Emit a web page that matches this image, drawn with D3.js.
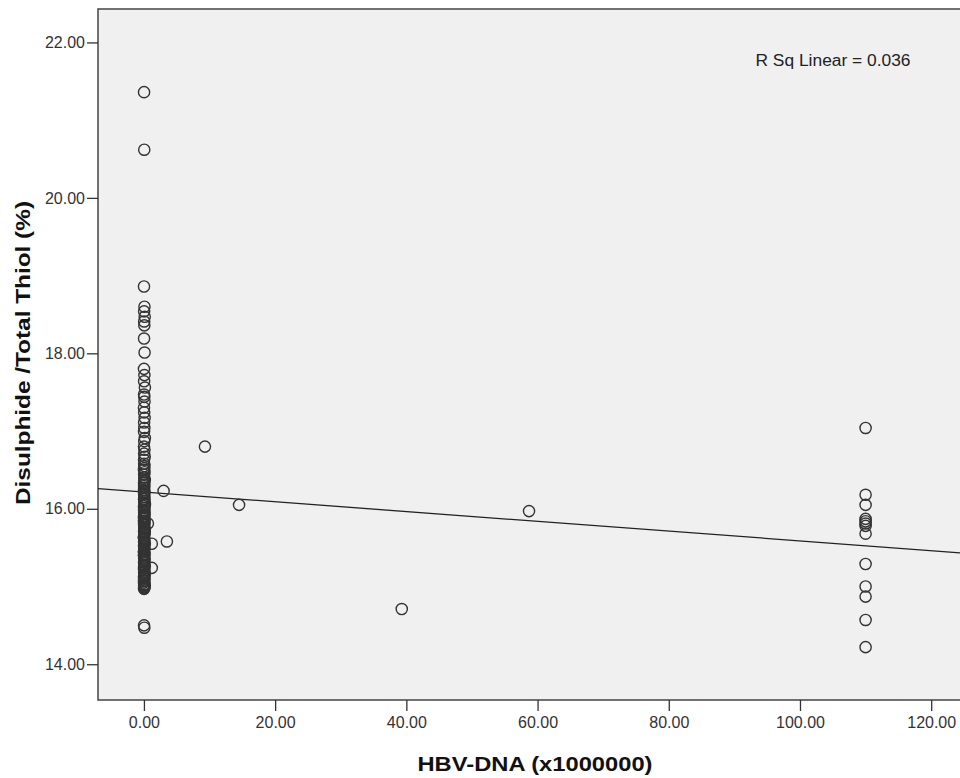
<!DOCTYPE html>
<html>
<head>
<meta charset="utf-8">
<script src="https://cdn.jsdelivr.net/npm/d3@7"></script>
<style>
  html, body { margin: 0; padding: 0; background: #ffffff; }
  svg { display: block; }
  text { font-family: "Liberation Sans", Arial, sans-serif; }
</style>
</head>
<body>
<svg id="chart" width="960" height="778"></svg>
<script>
// ---------------- data ----------------
// HBV-DNA (x1000000) near zero
const nearZeroX = [0.02, 0.05, 0.01, 0.08, 0.03, 0.12, 0.04, 0.06, 0.02, 0.10,
  0.01, 0.07, 0.03, 0.15, 0.02, 0.05, 0.09, 0.01, 0.04, 0.11,
  0.03, 0.06, 0.02, 0.14, 0.05, 0.01, 0.08, 0.03, 0.12, 0.02,
  0.04, 0.07, 0.01, 0.09, 0.03, 0.05, 0.13, 0.02, 0.06, 0.04,
  0.01, 0.10, 0.03, 0.08, 0.02, 0.05, 0.16, 0.01, 0.07, 0.03,
  0.04, 0.11, 0.02, 0.06, 0.01, 0.09, 0.03, 0.05, 0.12, 0.02,
  0.08, 0.04, 0.01, 0.07, 0.03, 0.14, 0.02, 0.06, 0.05, 0.01,
  0.10, 0.03, 0.04, 0.08, 0.02, 0.06, 0.13, 0.01, 0.05, 0.03,
  0.09, 0.02, 0.04, 0.07, 0.01, 0.11, 0.03, 0.06, 0.02, 0.05,
  0.01, 0.08, 0.03, 0.04, 0.02, 0.06, 0.01, 0.05,
  0.03, 0.07, 0.02, 0.10, 0.04, 0.01, 0.06, 0.09, 0.02, 0.05,
  0.12, 0.03, 0.08, 0.01, 0.04, 0.06, 0.02, 0.11, 0.05, 0.03,
  0.07, 0.01, 0.09, 0.04, 0.02, 0.06, 0.03, 0.08];
const nearZeroY = [21.36, 20.62, 18.86, 18.60, 18.54, 18.47, 18.41, 18.36, 18.19, 18.01,
  17.80, 17.72, 17.64, 17.56, 17.47, 17.44, 17.38, 17.30, 17.24, 17.17,
  17.11, 17.04, 16.99, 16.91, 16.87, 16.80, 16.76, 16.71, 16.67, 16.63,
  16.58, 16.55, 16.50, 16.47, 16.44, 16.40, 16.37, 16.33, 16.31, 16.27,
  16.24, 16.22, 16.18, 16.15, 16.13, 16.10, 16.06, 16.03, 16.01, 15.98,
  15.95, 15.93, 15.90, 15.87, 15.84, 15.82, 15.79, 15.76, 15.73, 15.71,
  15.68, 15.66, 15.63, 15.60, 15.58, 15.55, 15.52, 15.50, 15.47, 15.44,
  15.42, 15.39, 15.36, 15.34, 15.31, 15.28, 15.26, 15.23, 15.21, 15.18,
  15.15, 15.13, 15.10, 15.08, 15.05, 15.03, 15.01, 14.99, 14.97, 15.12,
  15.45, 15.85, 16.20, 16.52, 14.50, 14.47, 15.64, 16.35,
  16.12, 15.97, 15.81, 15.69, 15.57, 15.41, 15.33, 15.19, 15.07, 14.98,
  16.05, 15.91, 15.75, 15.62, 15.49, 15.37, 15.25, 15.16, 15.02, 16.29,
  16.08, 15.88, 15.70, 15.53, 15.40, 15.27, 15.11, 15.00];

// HBV-DNA (x1000000) at higher loads
const otherX = [0.6, 1.2, 1.2, 3.0, 3.5, 9.3, 14.5, 39.3, 58.7,
  110, 110, 110, 110, 110, 110, 110, 110, 110, 110, 110, 110, 110];
const otherY = [15.81, 15.55, 15.24, 16.23, 15.58, 16.80, 16.05, 14.71, 15.97,
  17.04, 16.18, 16.05, 15.87, 15.84, 15.81, 15.78, 15.68, 15.29, 15.00, 14.87, 14.57, 14.22];

const xTicks = [0, 20, 40, 60, 80, 100, 120];
const yTicks = [14, 16, 18, 20, 22];

// linear fit as drawn (intercept, slope) and its R²
const fitIntercept = 16.216;
const fitSlope = -0.00629;
const rSquaredLabel = "R Sq Linear = 0.036";

const xTitle = "HBV-DNA (x1000000)";
const yTitle = "Disulphide /Total Thiol (%)";

// ---------------- chart ----------------
const svg = d3.select("#chart");
const plot = { left: 98, top: 9, right: 964, bottom: 700 };

const x = d3.scaleLinear().domain([-7.0, 125.0]).range([plot.left, plot.right]);
const y = d3.scaleLinear().domain([13.54, 22.43]).range([plot.bottom, plot.top]);

// plot background
svg.append("rect")
  .attr("x", plot.left).attr("y", plot.top)
  .attr("width", plot.right - plot.left).attr("height", plot.bottom - plot.top)
  .attr("fill", "#f0f0f0")
  .attr("stroke", "#444").attr("stroke-width", 1.5);

// axes
const xAxis = svg.append("g")
  .attr("transform", `translate(0,${plot.bottom})`)
  .call(d3.axisBottom(x).tickValues(xTicks).tickFormat(d3.format(".2f")).tickSizeOuter(0).tickSizeInner(11).tickPadding(6));
const yAxis = svg.append("g")
  .attr("transform", `translate(${plot.left},0)`)
  .call(d3.axisLeft(y).tickValues(yTicks).tickFormat(d3.format(".2f")).tickSizeOuter(0).tickSizeInner(11).tickPadding(2));

[xAxis, yAxis].forEach(g => {
  g.select(".domain").remove();
  g.selectAll(".tick line").attr("stroke", "#333").attr("stroke-width", 1.3);
  g.selectAll(".tick text").attr("fill", "#333").attr("font-size", 16)
    .attr("font-family", "'Liberation Sans', Arial, sans-serif");
});

// clip for marks
svg.append("clipPath").attr("id", "clip")
  .append("rect").attr("x", plot.left).attr("y", plot.top)
  .attr("width", plot.right - plot.left).attr("height", plot.bottom - plot.top);

const marks = svg.append("g").attr("clip-path", "url(#clip)");

// fit line
const xd = x.domain();
marks.append("line")
  .attr("x1", x(xd[0])).attr("y1", y(fitIntercept + fitSlope * xd[0]))
  .attr("x2", x(xd[1])).attr("y2", y(fitIntercept + fitSlope * xd[1]))
  .attr("stroke", "#222").attr("stroke-width", 1.3);

// points
const pts = nearZeroX.map((v, i) => [v, nearZeroY[i]])
  .concat(otherX.map((v, i) => [v, otherY[i]]));

marks.selectAll("circle.pt").data(pts).join("circle")
  .attr("class", "pt")
  .attr("cx", d => x(d[0])).attr("cy", d => y(d[1]))
  .attr("r", 5.6)
  .attr("fill", "none")
  .attr("stroke", "#333").attr("stroke-width", 1.4);

// R² label
svg.append("text")
  .attr("x", 833).attr("y", 66)
  .attr("text-anchor", "middle")
  .attr("font-size", 16).attr("fill", "#222")
  .attr("textLength", 155).attr("lengthAdjust", "spacingAndGlyphs")
  .text(rSquaredLabel);

// axis titles
svg.append("text")
  .attr("x", 535).attr("y", 771)
  .attr("text-anchor", "middle")
  .attr("font-size", 21).attr("font-weight", "bold").attr("fill", "#111")
  .attr("textLength", 235).attr("lengthAdjust", "spacingAndGlyphs")
  .text(xTitle);

svg.append("text")
  .attr("transform", `translate(30,353) rotate(-90)`)
  .attr("text-anchor", "middle")
  .attr("font-size", 21).attr("font-weight", "bold").attr("fill", "#111")
  .attr("textLength", 304).attr("lengthAdjust", "spacingAndGlyphs")
  .text(yTitle);
</script>
</body>
</html>
